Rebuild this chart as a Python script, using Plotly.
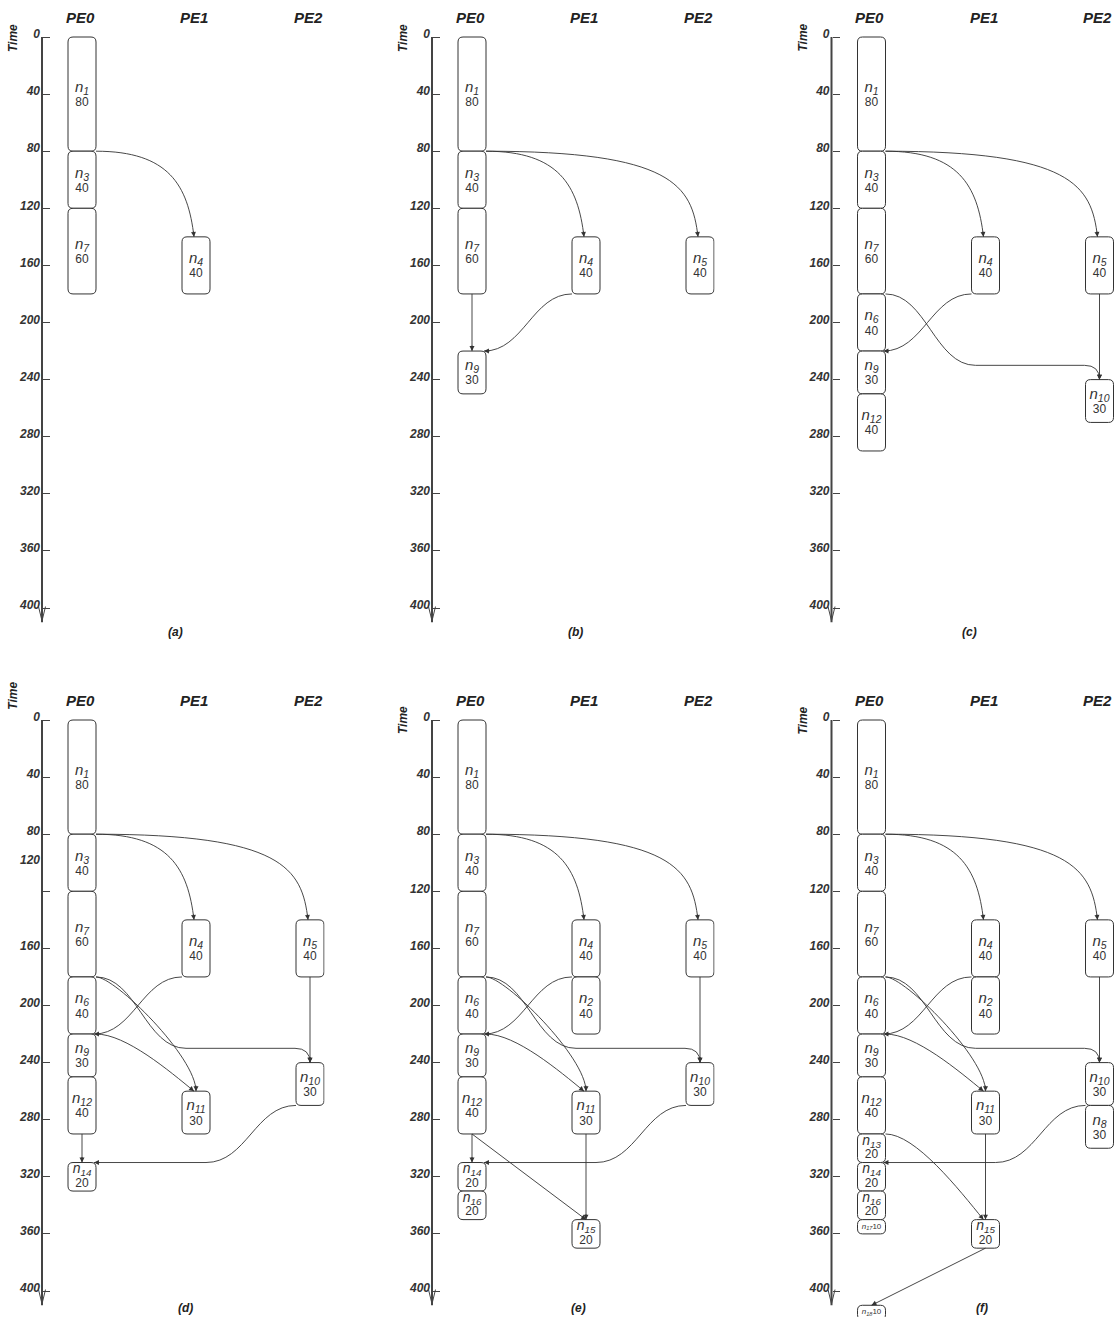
import math
import plotly.graph_objects as go

# ---------------- data ----------------
PE_LABELS = ["PE0", "PE1", "PE2"]
TIME_TICKS = [0, 40, 80, 120, 160, 200, 240, 280, 320, 360, 400]
TICK_LABELS = ["0", "40", "80", "120", "160", "200", "240", "280", "320", "360", "400"]
# panel (d) prints its "120" label near t=100 and leaves the 120 tick unlabeled
D_LABEL_TIMES = [0, 40, 80, 100, 160, 200, 240, 280, 320, 360, 400]
D_LABELS = ["0", "40", "80", "120", "160", "200", "240", "280", "320", "360", "400"]
CAPTIONS = ["(a)", "(b)", "(c)", "(d)", "(e)", "(f)"]

A_NODE = ["n1", "n3", "n7", "n4"]
A_PE = [0, 0, 0, 1]
A_START = [0, 80, 120, 140]
A_DUR = [80, 40, 60, 40]
A_SRC = ["n1"]
A_DST = ["n4"]
A_KIND = ["bend"]

B_NODE = ["n1", "n3", "n7", "n9", "n4", "n5"]
B_PE = [0, 0, 0, 0, 1, 2]
B_START = [0, 80, 120, 220, 140, 140]
B_DUR = [80, 40, 60, 30, 40, 40]
B_SRC = ["n1", "n1", "n7", "n4"]
B_DST = ["n4", "n5", "n9", "n9"]
B_KIND = ["bend", "bend", "straight", "sleft"]

C_NODE = ["n1", "n3", "n7", "n6", "n9", "n12", "n4", "n5", "n10"]
C_PE = [0, 0, 0, 0, 0, 0, 1, 2, 2]
C_START = [0, 80, 120, 180, 220, 250, 140, 140, 240]
C_DUR = [80, 40, 60, 40, 30, 40, 40, 40, 30]
C_SRC = ["n1", "n1", "n4", "n7", "n5"]
C_DST = ["n4", "n5", "n9", "n10", "n10"]
C_KIND = ["bend", "bend", "sleft", "route", "straight"]

D_NODE = ["n1", "n3", "n7", "n6", "n9", "n12", "n14", "n4", "n11", "n5", "n10"]
D_PE = [0, 0, 0, 0, 0, 0, 0, 1, 1, 2, 2]
D_START = [0, 80, 120, 180, 220, 250, 310, 140, 260, 140, 240]
D_DUR = [80, 40, 60, 40, 30, 40, 20, 40, 30, 40, 30]
D_SRC = ["n1", "n1", "n4", "n7", "n7", "n6", "n5", "n12", "n10"]
D_DST = ["n4", "n5", "n9", "n10", "n11", "n11", "n10", "n14", "n14"]
D_KIND = ["bend", "bend", "sleft", "route", "drop", "diag", "straight", "straight", "sleft"]

E_NODE = ["n1", "n3", "n7", "n6", "n9", "n12", "n14", "n16", "n4", "n2", "n11", "n15", "n5", "n10"]
E_PE = [0, 0, 0, 0, 0, 0, 0, 0, 1, 1, 1, 1, 2, 2]
E_START = [0, 80, 120, 180, 220, 250, 310, 330, 140, 180, 260, 350, 140, 240]
E_DUR = [80, 40, 60, 40, 30, 40, 20, 20, 40, 40, 30, 20, 40, 30]
E_SRC = ["n1", "n1", "n4", "n7", "n7", "n6", "n5", "n12", "n10", "n12", "n11"]
E_DST = ["n4", "n5", "n9", "n10", "n11", "n11", "n10", "n14", "n14", "n15", "n15"]
E_KIND = ["bend", "bend", "sleft", "route", "drop", "diag", "straight", "straight", "sleft", "straight", "straight"]

F_NODE = ["n1", "n3", "n7", "n6", "n9", "n12", "n13", "n14", "n16", "n17", "n18",
          "n4", "n2", "n11", "n15", "n5", "n10", "n8"]
F_PE = [0, 0, 0, 0, 0, 0, 0, 0, 0, 0, 0, 1, 1, 1, 1, 2, 2, 2]
F_START = [0, 80, 120, 180, 220, 250, 290, 310, 330, 350, 410, 140, 180, 260, 350, 140, 240, 270]
F_DUR = [80, 40, 60, 40, 30, 40, 20, 20, 20, 10, 10, 40, 40, 30, 20, 40, 30, 30]
F_SRC = ["n1", "n1", "n4", "n7", "n7", "n6", "n5", "n10", "n12", "n11", "n15"]
F_DST = ["n4", "n5", "n9", "n10", "n11", "n11", "n10", "n14", "n15", "n15", "n18"]
F_KIND = ["bend", "bend", "sleft", "route", "drop", "diag", "straight", "sleft", "diag", "straight", "straight"]

PANELS = [
    (A_NODE, A_PE, A_START, A_DUR, A_SRC, A_DST, A_KIND),
    (B_NODE, B_PE, B_START, B_DUR, B_SRC, B_DST, B_KIND),
    (C_NODE, C_PE, C_START, C_DUR, C_SRC, C_DST, C_KIND),
    (D_NODE, D_PE, D_START, D_DUR, D_SRC, D_DST, D_KIND),
    (E_NODE, E_PE, E_START, E_DUR, E_SRC, E_DST, E_KIND),
    (F_NODE, F_PE, F_START, F_DUR, F_SRC, F_DST, F_KIND),
]

# ---------------- layout / style ----------------
FIG_W, FIG_H = 1114, 1317
FONT = "Liberation Sans"
INK = "#333333"
PX_T = 1.4275          # pixels per time unit
PX_PE = 114.0          # pixels between PE columns
COL_OFF = [0, 390, 789.5]
ROW_T0 = [37, 720]      # pixel y of time 0 in each row
ROW_SPAN = [(0, 655), (660, 1317)]
AXIS_PX = 42
PE0_PX = 82
PANEL_L = 30            # plot area starts this many px right of panel origin
PANEL_R = 324.5
HALF_W = 14 / PX_PE
RX, RY = 5 / PX_PE, 5 / PX_T
TIME_LABEL_T = [0.7, 0.7, 0.7, -17, 0, 0.7]
CAPTION_PX = [175, 185, 180, 185, 188, 192]
CAPTION_T = [417, 417, 417, 412, 412, 412]


def dx(p):
    return p / PX_PE


def dt(p):
    return p / PX_T


def fmt(x, y):
    return f"{x:.5f},{y:.4f}"


def rounded_rect(x0, x1, y0, y1):
    return (f"M{fmt(x0 + RX, y0)} L{fmt(x1 - RX, y0)} Q{fmt(x1, y0)} {fmt(x1, y0 + RY)} "
            f"L{fmt(x1, y1 - RY)} Q{fmt(x1, y1)} {fmt(x1 - RX, y1)} "
            f"L{fmt(x0 + RX, y1)} Q{fmt(x0, y1)} {fmt(x0, y1 - RY)} "
            f"L{fmt(x0, y0 + RY)} Q{fmt(x0, y0)} {fmt(x0 + RX, y0)} Z")


def edge_path(kind, s, d):
    """returns svg path (data coords), end point, point just before end"""
    sx, ss, se = s
    tx, ts, te = d
    if kind == "straight":
        p0, p3 = (sx, se), (tx, ts)
        return f"M{fmt(*p0)} L{fmt(*p3)}", p3, p0
    if kind == "bend":
        p0 = (sx + HALF_W, se)
        p3 = (tx - dx(2), ts)
        p1 = (p3[0] - dx(25), p0[1])
        p2 = (p3[0] - dx(6), p3[1] - 0.6 * (p3[1] - p0[1]))
        return f"M{fmt(*p0)} C{fmt(*p1)} {fmt(*p2)} {fmt(*p3)}", p3, p2
    if kind == "drop":
        p0 = (sx + HALF_W, se)
        p3 = (tx, ts)
        p1 = (p0[0] + dx(19), p0[1])
        p2 = (p3[0], p3[1] - 0.3 * (p3[1] - p0[1]))
        return f"M{fmt(*p0)} C{fmt(*p1)} {fmt(*p2)} {fmt(*p3)}", p3, p2
    if kind == "diag":
        p0 = (sx + HALF_W, se)
        p3 = (tx - dx(2), ts)
        p1 = (p0[0] + dx(30), p0[1])
        p2 = (p3[0] - 0.25 * (p3[0] - p0[0]), p3[1] - 0.35 * (p3[1] - p0[1]))
        return f"M{fmt(*p0)} C{fmt(*p1)} {fmt(*p2)} {fmt(*p3)}", p3, p2
    if kind == "sleft":
        p0 = (sx - HALF_W, se)
        end = (tx + HALF_W - dx(2), ts)
        w = min(p0[0] - end[0], dx(90))
        q = (p0[0] - w, ts)
        p1 = (p0[0] - 0.45 * w, p0[1])
        p2 = (q[0] + 0.45 * w, q[1])
        path = f"M{fmt(*p0)} C{fmt(*p1)} {fmt(*p2)} {fmt(*q)}"
        if end[0] < q[0] - 1e-9:
            path += f" L{fmt(*end)}"
            return path, end, q
        return path, end, p2
    if kind == "route":
        p0 = (sx + HALF_W, se)
        lvl = ts - 10
        q = (p0[0] + dx(90), lvl)
        p1 = (p0[0] + 0.45 * dx(90), p0[1])
        p2 = (q[0] - 0.45 * dx(90), lvl)
        r = (tx - dx(15), lvl)
        end = (tx, ts)
        path = (f"M{fmt(*p0)} C{fmt(*p1)} {fmt(*p2)} {fmt(*q)} L{fmt(*r)} "
                f"Q{fmt(tx, lvl)} {fmt(*end)}")
        return path, end, (tx, lvl)
    raise ValueError(kind)


fig = go.Figure()
shapes, annotations = [], []

for i, (names, pes, starts, durs, srcs, dsts, kinds) in enumerate(PANELS):
    row, col = divmod(i, 3)
    sfx = "" if i == 0 else str(i + 1)
    xref, yref = "x" + sfx, "y" + sfx
    offx = COL_OFF[col]
    t0 = ROW_T0[row]
    ptop, pbot = ROW_SPAN[row]

    px_l = offx + PANEL_L
    px_r = min(offx + PANEL_R, FIG_W)
    x_lo = dx(px_l - offx - PE0_PX)
    x_hi = dx(px_r - offx - PE0_PX)
    x_axis = dx(AXIS_PX - PE0_PX)
    xdom = [px_l / FIG_W, px_r / FIG_W]
    ydom = [1 - pbot / FIG_H, 1 - ptop / FIG_H]
    y_top = dt(ptop - t0)
    y_bot = dt(pbot - t0)

    lab_vals = D_LABEL_TIMES if i == 3 else TIME_TICKS
    lab_text = D_LABELS if i == 3 else TICK_LABELS
    fig.layout["xaxis" + sfx] = dict(domain=xdom, range=[x_lo, x_hi], visible=False,
                                     fixedrange=True, anchor=yref)
    fig.layout["yaxis" + sfx] = dict(
        domain=ydom, range=[y_bot, y_top], anchor="free",
        position=(offx + AXIS_PX) / FIG_W, fixedrange=True,
        tickmode="array", tickvals=lab_vals, ticktext=lab_text, ticks="",
        showgrid=False, zeroline=False, showline=False,
        ticklabelstandoff=2, ticklabelshift=3,
        tickfont=dict(family=FONT, size=12, color=INK, weight="bold", style="italic"),
        minor=dict(tickmode="array", tickvals=TIME_TICKS, ticks="inside", ticklen=7,
                   tickwidth=1, tickcolor="#444444", showgrid=False),
    )

    # time axis line with arrow
    shapes.append(dict(type="line", xref=xref, yref=yref, x0=x_axis, x1=x_axis, y0=0, y1=410,
                       line=dict(color="#444444", width=2), layer="below"))
    shapes.append(dict(type="path", xref=xref, yref=yref,
                       path=f"M{fmt(x_axis - dx(3.5), 399)} L{fmt(x_axis, 409)} L{fmt(x_axis + dx(3.5), 399)}",
                       line=dict(color="#444444", width=1), layer="below"))

    # nodes
    info = {}
    nx, ny_name, ny_dur, name_txt, dur_txt, name_size = [], [], [], [], [], []
    for n, pe, s0, du in zip(names, pes, starts, durs):
        info[n] = (pe, s0, s0 + du)
        shapes.append(dict(type="path", xref=xref, yref=yref,
                           path=rounded_rect(pe - HALF_W, pe + HALF_W, s0, s0 + du),
                           line=dict(color=INK, width=1), fillcolor="white", layer="below"))
        num = n[1:]
        c = s0 + du / 2
        nx.append(pe)
        if du <= 10:
            ny_name.append(c)
            name_txt.append(f"<i>n<sub>{num}</sub></i>{du}")
            name_size.append(8)
        else:
            if du >= 30:
                ny_name.append(c - dt(6))
                ny_dur.append(c + dt(9))
                name_size.append(15)
            else:
                ny_name.append(c - dt(7))
                ny_dur.append(c + dt(7))
                name_size.append(14)
            name_txt.append(f"<i>n<sub>{num}</sub></i>")
            dur_txt.append(str(du))
    dur_x = [pe for pe, du in zip(pes, durs) if du > 10]

    # edges
    for s, d, k in zip(srcs, dsts, kinds):
        path, end, prev = edge_path(k, info[s], info[d])
        shapes.append(dict(type="path", xref=xref, yref=yref, path=path,
                           line=dict(color=INK, width=0.9), layer="below"))
        ux = (end[0] - prev[0]) * PX_PE
        uy = (end[1] - prev[1]) * PX_T
        L = math.hypot(ux, uy) or 1.0
        ux, uy = ux / L, uy / L
        annotations.append(dict(xref=xref, yref=yref, x=end[0], y=end[1], text="",
                                showarrow=True, arrowhead=2, arrowsize=1.1, arrowwidth=0.9,
                                arrowcolor=INK, ax=-ux * 7, ay=-uy * 7, standoff=0))

    fig.add_trace(go.Scatter(x=nx, y=ny_name, mode="text", text=name_txt,
                             textfont=dict(family=FONT, size=name_size, color=INK),
                             xaxis=xref, yaxis=yref, hoverinfo="skip", showlegend=False,
                             cliponaxis=False))
    fig.add_trace(go.Scatter(x=dur_x, y=ny_dur, mode="text", text=dur_txt,
                             textfont=dict(family=FONT, size=12, color=INK),
                             xaxis=xref, yaxis=yref, hoverinfo="skip", showlegend=False,
                             cliponaxis=False))

    # PE headers
    for k, lab in enumerate(PE_LABELS):
        annotations.append(dict(xref=xref, yref=yref, x=k, y=-13.5, xshift=-2, text=lab,
                                showarrow=False,
                                font=dict(family=FONT, size=15, color="#222222",
                                          weight="bold", style="italic")))
    # "Time" label
    annotations.append(dict(xref=xref, yref=yref, x=x_axis, y=TIME_LABEL_T[i],
                            xshift=-29, text="Time", textangle=-90, showarrow=False,
                            font=dict(family=FONT, size=12, color="#222222",
                                      weight="bold", style="italic")))
    # caption
    annotations.append(dict(xref=xref, yref=yref, x=dx(CAPTION_PX[i] - PE0_PX), y=CAPTION_T[i],
                            text=CAPTIONS[i], showarrow=False,
                            font=dict(family=FONT, size=12, color="#222222",
                                      weight="bold", style="italic")))

fig.update_layout(width=FIG_W, height=FIG_H, margin=dict(l=0, r=0, t=0, b=0),
                  paper_bgcolor="white", plot_bgcolor="white", showlegend=False,
                  shapes=shapes, annotations=annotations)
fig.write_html("out.html", config={"displayModeBar": False},
               post_script="document.body.style.margin='0px';document.body.style.overflow='hidden';")
